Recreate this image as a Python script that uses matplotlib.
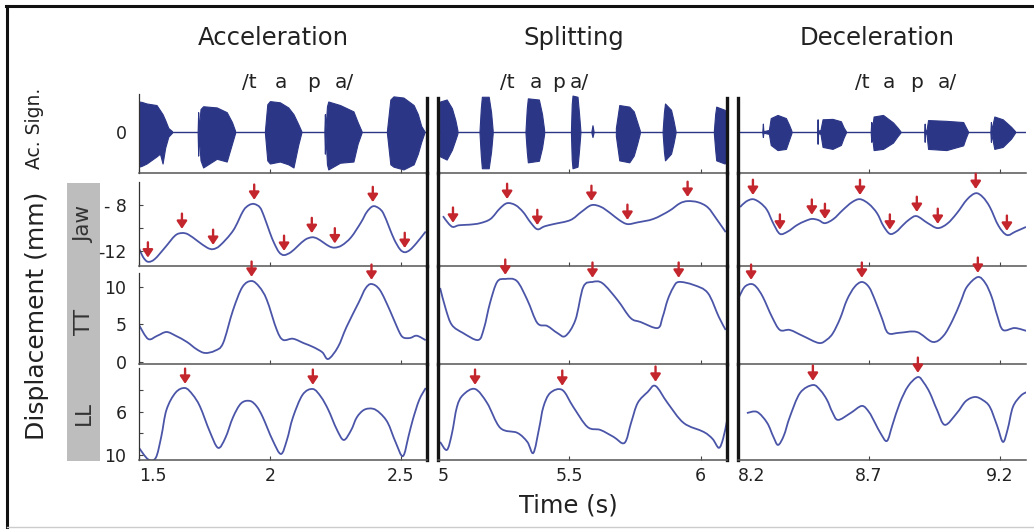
import numpy as np
import matplotlib.pyplot as plt
from matplotlib.patches import Rectangle, PathPatch
from matplotlib.lines import Line2D
from matplotlib.path import Path

plt.rcParams['font.family'] = ['DejaVu Sans']

SIG = '#2b3687'      # acoustic signal
LINE = '#4b55a8'     # kinematic traces
ARROW = '#c4262e'    # red markers
TXT = '#222222'

# ---- time axes of the three conditions ----
titles = ['Acceleration', 'Splitting', 'Deceleration']
xlims = [(1.5, 2.6), (5.0, 6.1), (8.2, 9.3)]
xticks = [[1.5, 2.0, 2.5], [5.0, 5.5, 6.0], [8.2, 8.7, 9.2]]
xticklabels = [['1.5', '2', '2.5'], ['5', '5.5', '6'], ['8.2', '8.7', '9.2']]

# ---- acoustic bursts: (times, upper envelope, lower envelope) ----
acc_bursts = [
    ([1.500, 1.510, 1.529, 1.567, 1.580, 1.590, 1.600, 1.612, 1.626],
     [0.77, 0.76, 0.72, 0.68, 0.55, 0.45, 0.30, 0.10, 0.02],
     [-0.88, -0.86, -0.80, -0.62, -0.55, -0.80, -0.40, -0.12, -0.02]),
    ([1.724, 1.726, 1.728, 1.735, 1.745, 1.797, 1.835, 1.855, 1.867],
     [0.02, 0.50, 0.05, 0.58, 0.65, 0.62, 0.50, 0.25, 0.03],
     [-0.02, -0.60, -0.05, -0.72, -0.90, -0.68, -0.75, -0.30, -0.03]),
    ([1.981, 1.990, 2.000, 2.038, 2.070, 2.090, 2.108, 2.120],
     [0.03, 0.70, 0.78, 0.75, 0.62, 0.45, 0.20, 0.02],
     [-0.03, -0.72, -0.80, -0.75, -0.82, -0.90, -0.33, -0.02]),
    ([2.208, 2.210, 2.212, 2.218, 2.223, 2.268, 2.319, 2.335, 2.350],
     [0.02, 0.45, 0.05, 0.65, 0.77, 0.68, 0.52, 0.25, 0.02],
     [-0.02, -0.55, -0.05, -0.82, -0.95, -0.78, -0.75, -0.30, -0.02]),
    ([2.447, 2.460, 2.472, 2.510, 2.549, 2.565, 2.578, 2.590],
     [0.03, 0.82, 0.90, 0.87, 0.68, 0.45, 0.15, 0.02],
     [-0.03, -0.82, -0.88, -0.95, -0.82, -0.55, -0.25, -0.02]),
]
spl_bursts = [
    ([5.008, 5.033, 5.053, 5.066, 5.074], [0.77, 0.82, 0.60, 0.30, 0.04], [-0.62, -0.70, -0.45, -0.20, -0.04]),
    ([5.158, 5.163, 5.167, 5.193, 5.202, 5.208], [0.03, 0.60, 0.89, 0.89, 0.50, 0.05],
     [-0.03, -0.60, -0.92, -0.92, -0.50, -0.05]),
    ([5.333, 5.338, 5.342, 5.384, 5.396, 5.404], [0.03, 0.60, 0.85, 0.82, 0.45, 0.05],
     [-0.03, -0.50, -0.77, -0.73, -0.40, -0.05]),
    ([5.506, 5.509, 5.512, 5.531, 5.537, 5.542], [0.03, 0.70, 0.92, 0.89, 0.45, 0.03],
     [-0.03, -0.70, -0.92, -0.88, -0.45, -0.03]),
    ([5.584, 5.588, 5.592], [0.02, 0.17, 0.02], [-0.02, -0.13, -0.02]),
    ([5.677, 5.690, 5.728, 5.745, 5.758, 5.768], [0.10, 0.68, 0.64, 0.52, 0.25, 0.04],
     [-0.10, -0.72, -0.77, -0.60, -0.30, -0.04]),
    ([5.855, 5.860, 5.864, 5.887, 5.896, 5.904], [0.03, 0.50, 0.72, 0.56, 0.30, 0.03],
     [-0.03, -0.50, -0.72, -0.55, -0.30, -0.03]),
    ([6.050, 6.055, 6.059, 6.091, 6.097], [0.03, 0.45, 0.64, 0.56, 0.50], [-0.03, -0.45, -0.72, -0.80, -0.75]),
]
dec_bursts = [
    ([8.293, 8.295, 8.297, 8.318, 8.325, 8.351, 8.383, 8.395, 8.404],
     [0.02, 0.21, 0.02, 0.05, 0.35, 0.43, 0.35, 0.18, 0.03],
     [-0.02, -0.13, -0.02, -0.05, -0.33, -0.46, -0.43, -0.20, -0.03]),
    ([8.502, 8.504, 8.506, 8.515, 8.523, 8.561, 8.593, 8.603, 8.612],
     [0.02, 0.32, 0.03, 0.05, 0.32, 0.33, 0.27, 0.12, 0.02],
     [-0.02, -0.30, -0.03, -0.05, -0.38, -0.43, -0.33, -0.15, -0.02]),
    ([8.707, 8.709, 8.711, 8.718, 8.754, 8.792, 8.808, 8.820],
     [0.02, 0.25, 0.05, 0.39, 0.43, 0.24, 0.12, 0.02],
     [-0.02, -0.25, -0.05, -0.46, -0.43, -0.27, -0.12, -0.02]),
    ([8.911, 8.913, 8.915, 8.920, 8.926, 8.996, 9.060, 9.070, 9.078],
     [0.02, 0.21, 0.03, 0.05, 0.30, 0.28, 0.25, 0.12, 0.02],
     [-0.02, -0.25, -0.03, -0.05, -0.43, -0.46, -0.34, -0.15, -0.02]),
    ([9.164, 9.166, 9.168, 9.179, 9.211, 9.243, 9.258],
     [0.02, 0.25, 0.05, 0.39, 0.32, 0.13, 0.02],
     [-0.02, -0.25, -0.05, -0.43, -0.38, -0.17, -0.02]),
]

# ---- Jaw (mm) ----
acc_jaw_t = [1.500, 1.515, 1.534, 1.560, 1.599, 1.638, 1.664, 1.688, 1.724, 1.760, 1.783,
             1.810, 1.860, 1.898, 1.920, 1.940, 1.962, 1.978, 2.000, 2.016, 2.035, 2.054,
             2.080, 2.107, 2.135, 2.160, 2.180, 2.204, 2.228, 2.248, 2.275, 2.310, 2.348,
             2.370, 2.393, 2.415, 2.433, 2.455, 2.475, 2.497, 2.515, 2.535, 2.560, 2.595]
acc_jaw_v = [-11.74, -12.50, -12.93, -12.70, -11.70, -10.65, -10.43, -10.55, -11.13, -11.70, -11.83,
             -11.50, -10.20, -8.50, -8.00, -7.90, -8.20, -9.00, -10.40, -11.30, -12.10, -12.35,
             -12.10, -11.55, -11.00, -10.80, -10.90, -11.25, -11.60, -11.70, -11.50, -10.80, -9.50,
             -8.60, -8.10, -8.25, -8.70, -9.90, -11.00, -11.85, -12.10, -11.90, -11.30, -10.30]
spl_jaw_t = [5.019, 5.040, 5.057, 5.080, 5.120, 5.160, 5.200, 5.235, 5.263, 5.295, 5.324,
             5.352, 5.378, 5.405, 5.440, 5.504, 5.545, 5.584, 5.620, 5.656, 5.690, 5.721,
             5.760, 5.820, 5.880, 5.920, 5.950, 5.990, 6.027, 6.060, 6.095]
spl_jaw_v = [-8.96, -9.60, -9.90, -9.75, -9.70, -9.57, -9.20, -8.30, -7.83, -8.00, -8.60,
             -9.50, -10.10, -9.85, -9.65, -9.30, -8.60, -8.00, -8.15, -8.70, -9.30, -9.65,
             -9.50, -9.20, -8.50, -7.85, -7.65, -7.75, -8.20, -9.20, -10.35]
dec_jaw_t = [8.208, 8.230, 8.257, 8.285, 8.311, 8.335, 8.360, 8.390, 8.425, 8.455, 8.482,
             8.507, 8.532, 8.565, 8.600, 8.635, 8.666, 8.700, 8.731, 8.755, 8.780, 8.805,
             8.830, 8.857, 8.883, 8.925, 8.963, 9.000, 9.036, 9.075, 9.108, 9.135, 9.162,
             9.195, 9.227, 9.260, 9.300]
dec_jaw_v = [-8.17, -7.70, -7.48, -7.80, -8.43, -9.60, -10.50, -10.30, -9.74, -9.40, -9.20,
             -9.30, -9.57, -9.20, -8.43, -7.75, -7.48, -7.90, -8.70, -9.80, -10.50, -10.30,
             -9.74, -9.20, -8.96, -9.57, -10.00, -9.60, -8.70, -7.50, -6.96, -7.30, -8.17,
             -9.80, -10.60, -10.30, -9.90]

# ---- Tongue tip (mm) ----
acc_tt_t = [1.500, 1.535, 1.570, 1.605, 1.640, 1.683, 1.720, 1.752, 1.790, 1.821, 1.859,
            1.895, 1.930, 1.960, 1.988, 2.026, 2.050, 2.088, 2.130, 2.165, 2.200, 2.223,
            2.260, 2.293, 2.340, 2.365, 2.388, 2.420, 2.458, 2.490, 2.508, 2.535, 2.561, 2.595]
acc_tt_v = [4.93, 3.07, 3.50, 4.00, 3.50, 2.67, 1.70, 1.20, 1.50, 2.50, 6.90,
            10.00, 10.80, 10.00, 8.30, 4.30, 2.95, 3.10, 2.50, 2.00, 1.30, 0.40,
            2.00, 4.70, 8.00, 9.80, 10.40, 9.60, 6.90, 4.30, 3.30, 3.20, 3.50, 2.90]
spl_tt_t = [5.008, 5.030, 5.053, 5.095, 5.153, 5.175, 5.198, 5.225, 5.256, 5.300, 5.340,
            5.378, 5.416, 5.454, 5.485, 5.523, 5.553, 5.588, 5.626, 5.683, 5.733, 5.771,
            5.836, 5.855, 5.874, 5.895, 5.916, 5.973, 6.027, 6.069, 6.095]
spl_tt_v = [9.87, 7.00, 4.93, 3.87, 2.93, 4.50, 7.87, 10.67, 11.07, 10.80, 8.27,
            5.20, 4.80, 3.87, 3.47, 5.60, 10.00, 10.67, 10.50, 8.27, 5.87, 5.33,
            4.53, 6.00, 8.27, 9.90, 10.67, 10.27, 9.20, 6.00, 4.27]
dec_tt_t = [8.204, 8.225, 8.250, 8.270, 8.295, 8.330, 8.360, 8.398, 8.448, 8.509, 8.540,
            8.563, 8.590, 8.616, 8.645, 8.673, 8.700, 8.723, 8.750, 8.773, 8.818, 8.883,
            8.944, 8.985, 9.020, 9.050, 9.074, 9.116, 9.145, 9.169, 9.190, 9.212, 9.257, 9.303]
dec_tt_v = [8.67, 10.00, 10.40, 10.00, 8.67, 6.00, 4.27, 4.27, 3.47, 2.53, 3.00,
            3.87, 5.80, 8.27, 10.00, 10.67, 10.00, 8.27, 5.80, 3.87, 3.90, 4.00,
            2.67, 3.50, 5.60, 8.00, 10.00, 11.33, 10.50, 8.67, 6.20, 4.27, 4.53, 4.13]

# ---- Lower lip (mm, axis reversed) ----
acc_ll_t = [1.500, 1.535, 1.564, 1.585, 1.605, 1.640, 1.676, 1.705, 1.733, 1.770, 1.802,
            1.830, 1.859, 1.890, 1.924, 1.950, 1.973, 2.010, 2.042, 2.065, 2.088, 2.125,
            2.164, 2.195, 2.223, 2.255, 2.282, 2.310, 2.332, 2.360, 2.393, 2.420, 2.450,
            2.480, 2.508, 2.530, 2.546, 2.570, 2.595]
acc_ll_v = [9.33, 10.40, 10.26, 8.30, 5.80, 4.20, 3.78, 4.40, 5.50, 7.80, 9.33,
            8.40, 6.50, 5.20, 4.98, 5.50, 6.50, 8.60, 9.90, 8.60, 6.50, 4.40,
            3.87, 4.60, 5.80, 7.60, 8.60, 7.70, 6.50, 5.80, 5.70, 6.10, 7.00,
            8.80, 10.10, 8.20, 6.70, 4.90, 3.78]
spl_ll_t = [5.008, 5.034, 5.053, 5.072, 5.095, 5.141, 5.187, 5.237, 5.302, 5.340, 5.363,
            5.385, 5.401, 5.427, 5.473, 5.515, 5.569, 5.618, 5.668, 5.710, 5.735, 5.760,
            5.798, 5.828, 5.874, 5.935, 6.011, 6.045, 6.069, 6.085, 6.099]
spl_ll_v = [8.78, 9.52, 8.00, 5.54, 4.43, 3.87, 5.17, 7.48, 7.94, 8.78, 9.80,
            7.50, 5.54, 4.24, 3.96, 5.54, 7.39, 7.67, 8.31, 8.87, 7.00, 5.17,
            4.15, 3.59, 5.17, 7.02, 7.85, 8.50, 9.33, 8.50, 6.93]
dec_ll_t = [8.234, 8.273, 8.311, 8.335, 8.353, 8.375, 8.398, 8.437, 8.486, 8.515, 8.540,
            8.560, 8.582, 8.630, 8.673, 8.700, 8.723, 8.745, 8.769, 8.790, 8.818, 8.850,
            8.887, 8.910, 8.933, 8.960, 8.990, 9.036, 9.070, 9.105, 9.135, 9.162, 9.190,
            9.212, 9.230, 9.250, 9.280, 9.303]
dec_ll_v = [6.10, 6.00, 7.00, 8.30, 9.06, 8.20, 6.46, 4.24, 3.50, 4.00, 4.89,
            6.00, 6.74, 6.10, 5.44, 6.00, 7.00, 8.00, 8.69, 7.20, 5.17, 3.60,
            2.76, 3.30, 4.24, 5.80, 7.20, 6.10, 5.00, 4.61, 4.90, 5.54, 7.30,
            8.78, 7.60, 5.54, 4.50, 4.15]

# ---- times marked by red arrows ----
acc_jaw_arrows = [1.534, 1.664, 1.783, 1.940, 2.054, 2.160, 2.248, 2.393, 2.515]
acc_tt_arrows = [1.930, 2.388]
acc_ll_arrows = [1.676, 2.164]
spl_jaw_arrows = [5.057, 5.263, 5.378, 5.584, 5.721, 5.950]
spl_tt_arrows = [5.256, 5.588, 5.916]
spl_ll_arrows = [5.141, 5.473, 5.828]
dec_jaw_arrows = [8.257, 8.360, 8.482, 8.532, 8.666, 8.780, 8.883, 8.963, 9.108, 9.227]
dec_tt_arrows = [8.250, 8.673, 9.116]
dec_ll_arrows = [8.486, 8.887]

columns = [
    dict(bursts=acc_bursts,
         traces=[(acc_jaw_t, acc_jaw_v, acc_jaw_arrows), (acc_tt_t, acc_tt_v, acc_tt_arrows),
                 (acc_ll_t, acc_ll_v, acc_ll_arrows)]),
    dict(bursts=spl_bursts,
         traces=[(spl_jaw_t, spl_jaw_v, spl_jaw_arrows), (spl_tt_t, spl_tt_v, spl_tt_arrows),
                 (spl_ll_t, spl_ll_v, spl_ll_arrows)]),
    dict(bursts=dec_bursts,
         traces=[(dec_jaw_t, dec_jaw_v, dec_jaw_arrows), (dec_tt_t, dec_tt_v, dec_tt_arrows),
                 (dec_ll_t, dec_ll_v, dec_ll_arrows)]),
]

# ---- layout (pixels in a 1034 x 531 canvas) ----
W, H = 1034, 531
cols_px = [(139, 427), (438, 727), (738, 1026)]
rows_px = [(94, 173), (173, 266), (266, 364), (364, 460)]
row_ylims = [(-1.04, 0.96), (-13.3, -5.2), (-0.27, 12.8), (10.46, 1.55)]
left_bounds = [None, (-13.3, -6.0), (-0.27, 11.9), (1.95, 10.46)]
row_yticks = [[0], [-12, -10, -8], [0, 5, 10], [4, 6, 8, 10]]
row_yticklabels = [['0'], ['-12', '', '- 8'], ['0', '5', '10'], ['', '6', '', '10']]
row_names = ['Jaw', 'TT', 'LL']
row_name_y = [224, 322, 413]
title_x = [273, 574, 877]
phon = ['/t', 'a', 'p', 'a/']
phon_x = [[242, 275, 307, 335], [500, 530, 552, 570], [855, 883, 910, 938]]


def px_box(x0, y0, x1, y1):
    return [x0 / W, 1 - y1 / H, (x1 - x0) / W, (y1 - y0) / H]


def ftext(x, y, s, **kw):
    fig.text(x / W, 1 - y / H, s, **kw)


def smooth_path(t, v):
    # cubic Bezier path through the read points (Catmull-Rom style control points)
    pts = np.column_stack([t, v])
    ext = np.vstack([pts[0], pts, pts[-1]])
    verts, codes = [pts[0]], [Path.MOVETO]
    for i in range(len(pts) - 1):
        p0, p1, p2, p3 = ext[i], ext[i + 1], ext[i + 2], ext[i + 3]
        verts += [p1 + (p2 - p0) / 6, p2 - (p3 - p1) / 6, p2]
        codes += [Path.CURVE4] * 3
    return Path(verts, codes)


fig = plt.figure(figsize=(W / 100, H / 100), dpi=100)

# grey label strip behind the row names
fig.add_artist(Rectangle((67 / W, 1 - 461 / H), 33 / W, 278 / H, transform=fig.transFigure,
                         facecolor='#bdbdbd', edgecolor='none', zorder=0))

for c, col in enumerate(columns):
    x0, x1 = cols_px[c]
    for r in range(4):
        y0, y1 = rows_px[r]
        ax = fig.add_axes(px_box(x0, y0, x1, y1))
        ax.set_facecolor('none')
        ax.set_xlim(*xlims[c])
        ax.set_ylim(*row_ylims[r])

        if r == 0:
            ax.axhline(0, color=SIG, lw=1.0)
            for bt, up, lo in col['bursts']:
                ax.fill_between(bt, lo, up, color=SIG, lw=0.8)
        else:
            t, v, marks = col['traces'][r - 1]
            ax.add_patch(PathPatch(smooth_path(t, v), fill=False, edgecolor=LINE, lw=1.3))
            for ta in marks:
                va = np.interp(ta, t, v)
                ax.annotate('', xy=(ta, va), xytext=(0, 14), textcoords='offset points',
                            arrowprops=dict(arrowstyle='-|>,head_length=0.45,head_width=0.3',
                                            color=ARROW, lw=1.7, shrinkA=0, shrinkB=3),
                            annotation_clip=False)

        # spines
        ax.spines['top'].set_visible(False)
        ax.spines['bottom'].set_color('#555555')
        ax.spines['bottom'].set_linewidth(1.1)
        thick = dict(color='#151515', linewidth=2.4)
        if c == 0:
            ax.spines['left'].set_color('#333333')
            ax.spines['left'].set_linewidth(0.9)
            if left_bounds[r] is not None:
                ax.spines['left'].set_bounds(*left_bounds[r])
        else:
            ax.spines['left'].set(**thick)
        if c < 2:
            ax.spines['right'].set(**thick)
        else:
            ax.spines['right'].set_visible(False)
        if r == 0:
            for side in ('left', 'right'):
                if ax.spines[side].get_linewidth() > 2:
                    ax.spines[side].set_bounds(-1.04, 0.86)

        # ticks
        ax.set_xticks(xticks[c])
        ax.tick_params(axis='x', direction='in', length=3, width=0.8, color='#444444',
                       labelsize=12.5, labelcolor=TXT, pad=5)
        if r == 3:
            ax.set_xticklabels(xticklabels[c])
            ax.get_xticklabels()[0].set_horizontalalignment('left')
        else:
            ax.tick_params(axis='x', labelbottom=False)
        if c == 0:
            ax.set_yticks(row_yticks[r])
            ax.set_yticklabels(row_yticklabels[r])
            ax.tick_params(axis='y', direction='in', length=0 if r == 0 else 3, width=0.8,
                           color='#444444', labelsize=12.5, labelcolor=TXT, pad=9)
        else:
            ax.set_yticks([])

    ftext(title_x[c], 38, titles[c], ha='center', va='center', fontsize=17.5, color=TXT)
    for s, px in zip(phon, phon_x[c]):
        ftext(px, 83, s, ha='left', va='center', fontsize=14.5, color=TXT)

# axis titles
ftext(34, 128, 'Ac. Sign.', rotation=90, ha='center', va='center', fontsize=13.5, color=TXT)
ftext(37, 316, 'Displacement (mm)', rotation=90, ha='center', va='center', fontsize=18, color=TXT)
ftext(568, 505, 'Time (s)', ha='center', va='center', fontsize=17.5, color=TXT)
for name, yy in zip(row_names, row_name_y):
    ftext(84, yy, name, rotation=90, ha='center', va='center', fontsize=15.5, color='#333333')

# frame around the figure
fig.add_artist(Line2D([6 / W, 1], [1 - 6 / H] * 2, color='#111111', lw=2.2, transform=fig.transFigure))
fig.add_artist(Line2D([7 / W] * 2, [1 - 6 / H, 1 - 527 / H], color='#111111', lw=2.2,
                      transform=fig.transFigure))
fig.add_artist(Line2D([7 / W, 1], [1 - 527 / H] * 2, color='#cccccc', lw=1.0, transform=fig.transFigure))

fig.savefig('out.png', dpi=100)
